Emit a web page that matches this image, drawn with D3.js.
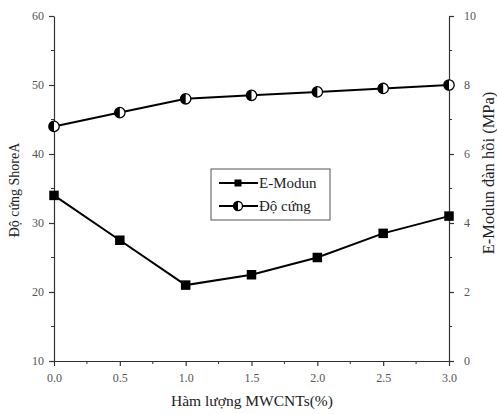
<!DOCTYPE html>
<html><head><meta charset="utf-8">
<script src="https://cdn.jsdelivr.net/npm/d3@7"></script>
<style>body{margin:0;background:#fff}svg{display:block}</style>
</head><body>
<svg id="c" width="497" height="414"></svg>
<script>
const xValues = [0.0, 0.5, 1.0, 1.5, 2.0, 2.5, 3.0];
const doCung = [44, 46, 48, 48.5, 49, 49.5, 50];        // left axis (ShoreA)
const eModun = [4.8, 3.5, 2.2, 2.5, 3.0, 3.7, 4.2];      // right axis (MPa)
const xTicks = [0, 0.5, 1.0, 1.5, 2.0, 2.5, 3.0];
const yLeftTicks = [10, 20, 30, 40, 50, 60];
const yRightTicks = [0, 2, 4, 6, 8, 10];
const seriesNames = ["E-Modun", "Độ cứng"];

const svg = d3.select("#c");
const L = 54, R = 449, T = 16, B = 361;
const x = d3.scaleLinear().domain([0, 3]).range([L, R]);
const yL = d3.scaleLinear().domain([10, 60]).range([B, T]);
const yR = d3.scaleLinear().domain([0, 10]).range([B, T]);
const font = "'Liberation Serif','Times New Roman',serif";
const axCol = "#333";

function styleAxis(g) {
  g.selectAll("path,line").attr("stroke", axCol).attr("stroke-width", 1.2);
  g.selectAll("text").attr("font-family", font).attr("font-size", 12).attr("fill", "#555");
}

// minor ticks
const gMinor = svg.append("g");
d3.range(0.25, 3, 0.5).forEach(v => gMinor.append("line").attr("x1", x(v)).attr("x2", x(v)).attr("y1", B).attr("y2", B + 3).attr("stroke", axCol));
d3.range(15, 60, 10).forEach(v => gMinor.append("line").attr("x1", L).attr("x2", L - 3).attr("y1", yL(v)).attr("y2", yL(v)).attr("stroke", axCol));
d3.range(1, 10, 2).forEach(v => gMinor.append("line").attr("x1", R).attr("x2", R + 3).attr("y1", yR(v)).attr("y2", yR(v)).attr("stroke", axCol));

svg.append("g").attr("transform", `translate(0,${B})`)
  .call(d3.axisBottom(x).tickValues(xTicks).tickFormat(d3.format(".1f")).tickSize(5).tickSizeOuter(0).tickPadding(7))
  .call(styleAxis);
svg.append("g").attr("transform", `translate(${L},0)`)
  .call(d3.axisLeft(yL).tickValues(yLeftTicks).tickSize(5).tickSizeOuter(0).tickPadding(5))
  .call(styleAxis);
svg.append("g").attr("transform", `translate(${R},0)`)
  .call(d3.axisRight(yR).tickValues(yRightTicks).tickSize(5).tickSizeOuter(0).tickPadding(10))
  .call(styleAxis);

// axis titles
svg.append("text").attr("x", 252).attr("y", 406).attr("text-anchor", "middle")
  .attr("font-family", font).attr("font-size", 15.5).attr("fill", "#222").text("Hàm lượng MWCNTs(%)");
svg.append("text").attr("transform", `translate(19,190) rotate(-90)`).attr("text-anchor", "middle")
  .attr("font-family", font).attr("font-size", 14).attr("fill", "#222").text("Độ cứng ShoreA");
svg.append("text").attr("transform", `translate(494,173) rotate(-90)`).attr("text-anchor", "middle")
  .attr("font-family", font).attr("font-size", 16.5).attr("fill", "#222").text("E-Modun đàn hồi (MPa)");

// lines
const lineL = d3.line().x((d, i) => x(xValues[i])).y(d => yL(d));
const lineR = d3.line().x((d, i) => x(xValues[i])).y(d => yR(d));
svg.append("path").datum(doCung).attr("d", lineL).attr("fill", "none").attr("stroke", "#000").attr("stroke-width", 2);
svg.append("path").datum(eModun).attr("d", lineR).attr("fill", "none").attr("stroke", "#000").attr("stroke-width", 2);

function halfCircle(g, cx, cy, r) {
  g.append("circle").attr("cx", cx).attr("cy", cy).attr("r", r).attr("fill", "#fff").attr("stroke", "#000").attr("stroke-width", 1.3);
  g.append("path").attr("d", `M${cx},${cy - r} A${r},${r} 0 0 0 ${cx},${cy + r} Z`).attr("fill", "#000");
}
function square(g, cx, cy, s) {
  g.append("rect").attr("x", cx - s / 2).attr("y", cy - s / 2).attr("width", s).attr("height", s).attr("fill", "#000");
}
const gm = svg.append("g");
eModun.forEach((v, i) => square(gm, x(xValues[i]), yR(v), 9.5));
doCung.forEach((v, i) => halfCircle(gm, x(xValues[i]), yL(v), 5.2));

// legend
const lg = svg.append("g");
lg.append("rect").attr("x", 211).attr("y", 169).attr("width", 119).attr("height", 51)
  .attr("fill", "#fff").attr("stroke", "#555").attr("stroke-width", 1);
[183, 206].forEach((yy, i) => {
  lg.append("line").attr("x1", 219).attr("x2", 258).attr("y1", yy).attr("y2", yy).attr("stroke", "#000").attr("stroke-width", 2);
  if (i === 0) square(lg, 238, yy, 7); else halfCircle(lg, 238, yy, 4.5);
  lg.append("text").attr("x", 259).attr("y", yy + 5).attr("font-family", font).attr("font-size", 15).attr("fill", "#222").text(seriesNames[i]);
});
</script>
</body></html>
